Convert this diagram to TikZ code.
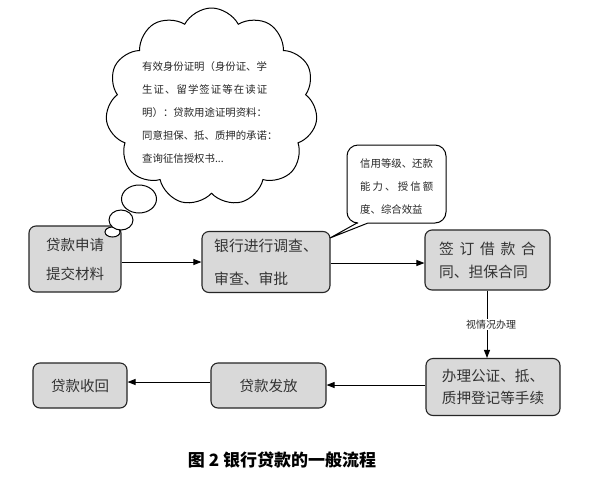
\documentclass[tikz,border=0pt]{standalone}
\usepackage{fontspec}
\setmainfont{Noto Sans CJK SC}
\newfontfamily\cjk{Noto Sans CJK SC}
\usetikzlibrary{shapes.geometric,shapes.symbols,arrows.meta}
\begin{document}
\begin{tikzpicture}[x=1pt,y=-1pt,
  box/.style={draw=black!85,line width=1.1pt,fill=black!15,rounded corners=7pt,inner sep=0pt,font=\fontsize{14.5}{29}\selectfont,text=black!80},
  arr/.style={-{Triangle[length=8pt,width=6pt]},line width=0.9pt},
  bub/.style={draw=black,line width=1pt,fill=white},
  small/.style={font=\fontsize{10.4}{23}\selectfont,text=black!85,inner sep=0pt}]
\fill[white] (0,0) rectangle (592,491);
\useasboundingbox (0,0) rectangle (592,491);
% boxes
\node[box,minimum width=92pt,minimum height=66pt,align=left] (b1) at (75,259) {贷款申请\\提交材料};
\node[box,minimum width=128pt,minimum height=61pt,align=left,font=\fontsize{14.8}{33}\selectfont] (b2) at (266,262) {银行进行调查、\\审查、审批};
\node[box,minimum width=125pt,minimum height=60pt,align=left,font=\fontsize{14.8}{23}\selectfont] (b3) at (487.5,260) {\makebox[97pt][s]{签\hfil 订\hfil 借\hfil 款\hfil 合}\\同、担保合同};
\node[box,minimum width=134pt,minimum height=57pt,align=left,font=\fontsize{14.6}{22}\selectfont] (b4) at (493,387) {办理公证、抵、\\质押登记等手续};
\node[box,minimum width=115pt,minimum height=45pt] (b5) at (268.5,385.5) {贷款发放};
\node[box,minimum width=94pt,minimum height=45pt] (b6) at (80,385.5) {贷款收回};
% connectors
\draw[arr] (b1.east |- 0,262) -- (b2.west |- 0,262);
\draw[arr] (b2.east |- 0,263) -- (b3.west |- 0,263);
\draw[arr] (b3.south -| 487,0) -- node[fill=white,small,font=\fontsize{10}{12}\selectfont,inner sep=1pt,xshift=4pt] (lab) {视情况办理} (b4.north -| 487,0);
\draw[arr] (b4.west |- 0,385) -- (b5.east |- 0,385);
\draw[arr] (b5.west |- 0,382) -- (b6.east |- 0,382);
% thought bubbles
\node[ellipse,bub,minimum width=15pt,minimum height=10pt,inner sep=0pt] (t3) at (112.5,232) {};
\node[ellipse,bub,minimum width=24pt,minimum height=20pt,inner sep=0pt] (t2) at (121,220) {};
\node[ellipse,bub,minimum width=35pt,minimum height=28pt,inner sep=0pt] (t1) at (139,199) {};
\node[cloud,bub,cloud puffs=11,cloud puff arc=125,aspect=1.1,minimum width=212pt,minimum height=198pt,inner sep=0pt] (cl) at (211.5,107) {};
\node[small,anchor=north west,align=left] (ct) at (142,61) {有效身份证明（身份证、学\\\makebox[125pt][s]{生\hfil 证\hfil 、\hfil 留\hfil 学\hfil 签\hfil 证\hfil 等\hfil 在\hfil 读\hfil 证}\\明）：贷款用途证明资料：\\同意担保、抵、质押的承诺：\\查询征信授权书...};
% callout
\draw[bub,rounded corners=11pt] (368,223) -- (446,223) -- (446,145) -- (347,145) -- (347,223) [sharp corners] -- (357,223) -- (330,238) -- (368,223) -- cycle;
\node[small,anchor=north west,align=left] (bt) at (360,159) {信用等级、还款\\\makebox[73pt][s]{能\hfil 力\hfil 、\hfil 授\hfil 信\hfil 额}\\度、综合效益};
% caption
\node[font=\fontsize{17}{20}\selectfont\bfseries,inner sep=0pt] (cap) at (282,460) {图 2 银行贷款的一般流程};
\end{tikzpicture}
\end{document}
